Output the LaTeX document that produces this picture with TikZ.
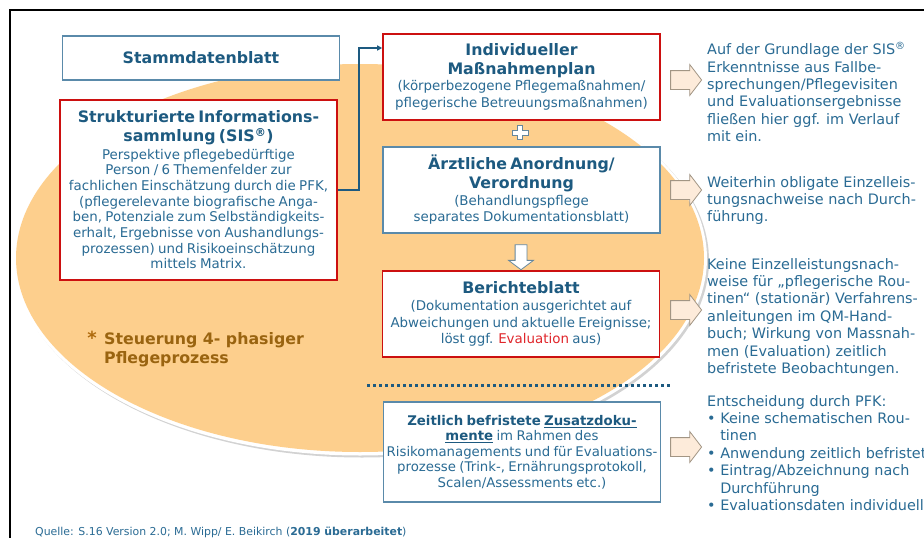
\documentclass[tikz,border=0pt]{standalone}
\usepackage{fontspec}
\setmainfont{DejaVu Sans}
\usetikzlibrary{shapes.arrows,arrows.meta}
\definecolor{titleblue}{HTML}{1D5A80}
\definecolor{textblue}{HTML}{2A6B94}
\definecolor{boxblue}{HTML}{5A8AAA}
\definecolor{boxred}{HTML}{CC1010}
\definecolor{ovalorange}{HTML}{FDCF8D}
\definecolor{arrowfill}{HTML}{FDEBDA}
\definecolor{arrowline}{HTML}{A29584}
\definecolor{steerbrown}{HTML}{9A6410}
\definecolor{evalred}{HTML}{E0262B}
\newcommand{\boxtitle}{\bfseries\color{titleblue}\fontsize{15.8}{18.5}\selectfont}
\newcommand{\boxbody}{\fontsize{13.4}{16.8}\selectfont}
\newcommand{\regmark}{\textsuperscript{®}}
\tikzset{
  docbox/.style={draw=boxblue, line width=1.2pt, fill=white, text=textblue, align=center,
    inner sep=0pt, minimum width=277pt, text width=274pt},
  keybox/.style={docbox, draw=boxred, line width=1.6pt},
  sidearrow/.style={single arrow, draw=arrowline, fill=arrowfill, line width=0.8pt,
    inner xsep=0pt, inner ysep=9pt, minimum height=31pt, minimum width=0pt,
    single arrow head extend=6pt, single arrow tip angle=105},
  downarrow/.style={single arrow, draw=boxblue!70!gray, fill=white, line width=0.8pt,
    inner xsep=0pt, inner ysep=5.5pt, minimum height=25pt, minimum width=0pt,
    single arrow head extend=6.5pt, single arrow tip angle=106, rotate=-90},
  sidetext/.style={anchor=north west, inner sep=0pt, align=left, text=textblue,
    font=\fontsize{14.4}{17.4}\selectfont},
  link/.style={draw=titleblue, line width=1.5pt, -{Triangle[length=5pt,width=5pt]}},
}

\begin{document}
\begin{tikzpicture}[x=1pt,y=-1pt]
  \useasboundingbox (0,0) rectangle (924,538);
  \clip (0,0) rectangle (924,538);
  \fill[white] (0,0) rectangle (924,538);
  \draw[line width=1.5pt] (10,545) -- (10,10) -- (930,10);

  \fill[gray!35] (362,260.5) ellipse [x radius=347, y radius=197];
  \fill[white] (360,258.5) ellipse [x radius=347, y radius=197];
  \fill[ovalorange] (360,258) ellipse [x radius=344, y radius=194];

  \node[docbox, minimum height=44pt] (stamm) at (201,58) {\boxtitle Stammdatenblatt\par};
  \node[keybox, minimum height=180pt] (sis) at (198.5,190)
    {{\boxtitle Strukturierte Informations-\\sammlung (SIS\regmark)\par}
     {\fontsize{13.4}{15.7}\selectfont\vspace{2pt}Perspektive pflegebedürftige\\Person / 6 Themenfelder zur\\
      fachlichen Einschätzung durch die PFK,\\(pflegerelevante biografische Anga-\\
      ben, Potenziale zum Selbständigkeits-\\erhalt, Ergebnisse von Aushandlungs-\\
      prozessen) und Risikoeinschätzung\\mittels Matrix.\par}};

  \node[keybox, minimum height=86pt] (plan) at (521.5,77)
    {{\boxtitle Individueller\\Maßnahmenplan\par}
     {\boxbody (körperbezogene Pflegemaßnahmen/\\pflegerische Betreuungsmaßnahmen)\par}};
  \node[docbox, minimum height=86pt] (arzt) at (521.5,190)
    {{\boxtitle Ärztliche Anordnung/\\Verordnung\par}
     {\boxbody (Behandlungspflege\\separates Dokumentationsblatt)\par}};
  \node[keybox, minimum height=86pt] (bericht) at (521,314)
    {{\boxtitle Berichteblatt\par}
     {\boxbody (Dokumentation ausgerichtet auf\\Abweichungen und aktuelle Ereignisse;\\
      löst ggf. \textcolor{evalred}{Evaluation} aus)\par}};
  \node[docbox, minimum height=100pt] (zusatz) at (522,452)
    {\fontsize{13.3}{15.5}\selectfont\textbf{\color{titleblue}Zeitlich befristete \underline{Zusatzdoku-}}\\
     \textbf{\color{titleblue}\underline{mente}} im Rahmen des\\Risikomanagements und für Evaluations-\\
     prozesse (Trink-, Ernährungsprotokoll,\\Scalen/Assessments etc.)\par};

  \draw[link] (sis.east) -- ++(21,0) |- ([yshift=29pt]plan.west);

  \coordinate (plus) at (520,132.5);
  \draw[draw=boxblue!70!gray, fill=white, line width=0.8pt, shift={(plus)}]
    (-2.5,-7) -- (2.5,-7) -- (2.5,-2.5) -- (8,-2.5) -- (8,2.5) -- (2.5,2.5) -- (2.5,7)
    -- (-2.5,7) -- (-2.5,2.5) -- (-8,2.5) -- (-8,-2.5) -- (-2.5,-2.5) -- cycle;
  \node[downarrow] (down) at (521,255) {};

  \coordinate (dotsL) at (367,385);
  \coordinate (dotsR) at (672,385);
  \draw[titleblue, line width=3pt, dash pattern=on 3pt off 3pt] (dotsL) -- (dotsR);

  \node[sidearrow] (pfeil1) at (682.5,80) {};
  \node[sidearrow] (pfeil2) at (682.5,190) {};
  \node[sidearrow] (pfeil3) at (682.5,310) {};
  \node[sidearrow] (pfeil4) at (682.5,447) {};

  \node[sidetext] (info1) at (707,42) {Auf der Grundlage der SIS\regmark\\Erkenntnisse aus Fallbe-\\
    sprechungen/Pflegevisiten\\und Evaluationsergebnisse\\fließen hier ggf. im Verlauf\\mit ein.};
  \node[sidetext] (info2) at (707,176) {Weiterhin obligate Einzelleis-\\tungsnachweise nach Durch-\\führung.};
  \node[sidetext] (info3) at (707,258) {Keine Einzelleistungsnach-\\weise für „pflegerische Rou-\\
    tinen“ (stationär) Verfahrens-\\anleitungen im QM-Hand-\\buch; Wirkung von Massnah-\\
    men (Evaluation) zeitlich\\befristete Beobachtungen.};
  \node[sidetext] (info4) at (707,395) {Entscheidung durch PFK:\\
    \textbullet\ Keine schematischen Rou-\\\hphantom{\textbullet\ }tinen\\
    \textbullet\ Anwendung zeitlich befristeter\\
    \textbullet\ Eintrag/Abzeichnung nach\\\hphantom{\textbullet\ }Durchführung\\
    \textbullet\ Evaluationsdaten individuell};

  \node[text=steerbrown!80!orange, font=\bfseries\fontsize{18}{18}\selectfont, inner sep=0pt]
    (stern) at (92,338) {*};
  \node[anchor=north west, inner sep=0pt, align=left, text=steerbrown,
    font=\bfseries\fontsize{15.8}{19}\selectfont] (steuer) at (104,332)
    {Steuerung 4- phasiger\\Pflegeprozess};

  \node[anchor=west, inner sep=0pt, text=textblue, font=\fontsize{10.9}{12}\selectfont]
    (quelle) at (35,532) {Quelle: S.16 Version 2.0; M. Wipp/ E. Beikirch (\textbf{2019 überarbeitet})};
\end{tikzpicture}
\end{document}
